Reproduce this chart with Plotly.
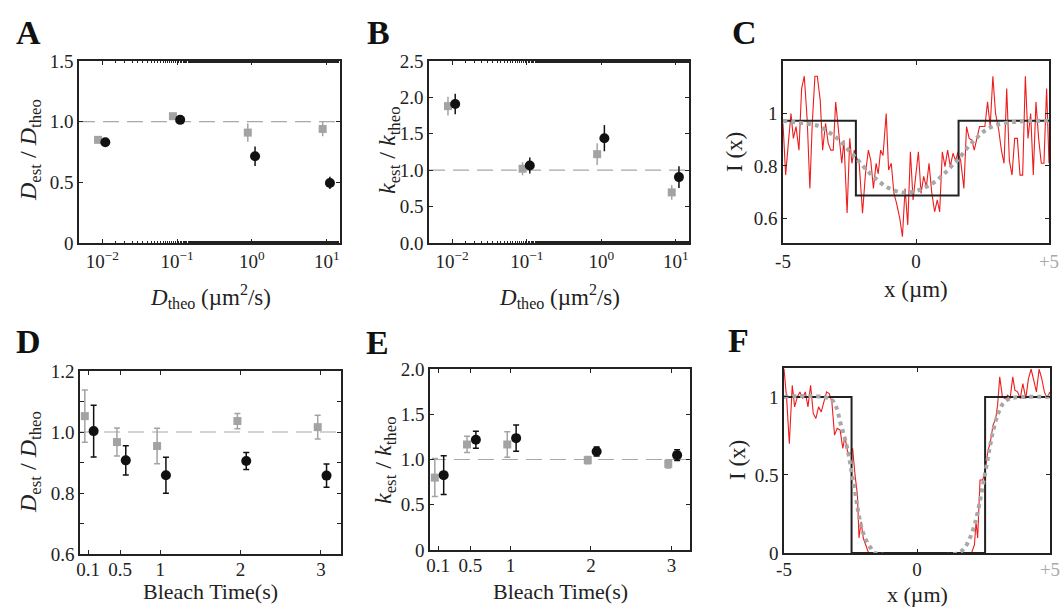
import plotly.graph_objects as go

# ---------------- data ----------------
# Panels A / B : x = D_theo (um^2/s)
d_theo = [0.01, 0.1, 1.0, 10.0]
A_gray = [0.85, 1.045, 0.91, 0.94]
A_gray_err = [0.02, 0.025, 0.075, 0.06]
A_black = [0.83, 1.015, 0.715, 0.495]
A_black_err = [0.02, 0.02, 0.08, 0.05]

B_gray = [1.88, 1.02, 1.22, 0.695]
B_gray_err = [0.13, 0.09, 0.15, 0.10]
B_black = [1.91, 1.065, 1.44, 0.905]
B_black_err = [0.14, 0.11, 0.18, 0.15]

# Panels D / E : x = bleach time (s)
bleach = [0.1, 0.5, 1.0, 2.0, 3.0]
D_gray = [1.052, 0.967, 0.954, 1.036, 1.016]
D_gray_err = [0.086, 0.046, 0.058, 0.025, 0.039]
D_black = [1.003, 0.907, 0.858, 0.905, 0.857]
D_black_err = [0.085, 0.048, 0.059, 0.028, 0.038]

E_gray = [0.80, 1.166, 1.166, 0.993, 0.952]
E_gray_err = [0.21, 0.09, 0.14, 0.04, 0.045]
E_black = [0.827, 1.218, 1.236, 1.089, 1.048]
E_black_err = [0.215, 0.095, 0.144, 0.05, 0.06]

# Panel C : intensity profile
C_x = [-5.0, -4.9, -4.8, -4.7, -4.61, -4.51, -4.4, -4.3, -4.2, -4.09, -3.99, -3.9, -3.8, -3.71,
       -3.6, -3.51, -3.4, -3.3, -3.2, -3.11, -3.02, -2.92, -2.79, -2.71, -2.59, -2.49, -2.41,
       -2.32, -2.23, -2.14, -2.01, -1.9, -1.79, -1.7, -1.6, -1.5, -1.42, -1.33, -1.24, -1.12,
       -1.03, -0.93, -0.83, -0.73, -0.61, -0.51, -0.41, -0.31, -0.21, -0.11, 0.0, 0.09, 0.19,
       0.29, 0.39, 0.49, 0.59, 0.7, 0.8, 0.89, 0.99, 1.09, 1.19, 1.29, 1.39, 1.49, 1.58, 1.68,
       1.8, 1.9, 2.0, 2.1, 2.19, 2.29, 2.39, 2.49, 2.59, 2.69, 2.79, 2.89, 2.99, 3.11, 3.21,
       3.31, 3.41, 3.51, 3.61, 3.71, 3.81, 3.91, 4.01, 4.11, 4.21, 4.31, 4.41, 4.51, 4.61,
       4.71, 4.81, 4.91, 5.0]
C_y = [0.962, 0.765, 0.886, 1.0, 0.905, 0.95, 0.86, 1.095, 1.142, 0.975, 0.714, 0.962, 1.142,
       1.142, 1.05, 0.86, 0.962, 0.886, 0.86, 0.86, 1.044, 0.95, 0.81, 0.898, 0.62, 0.905, 0.81,
       0.86, 0.83, 0.816, 0.62, 0.77, 0.86, 0.82, 0.714, 0.81, 0.77, 0.86, 0.84, 1.0, 0.784,
       0.81, 0.695, 0.657, 0.6, 0.53, 0.714, 0.575, 0.854, 0.67, 0.76, 0.854, 0.695, 0.76, 0.72,
       0.81, 0.70, 0.625, 0.67, 0.625, 0.854, 0.797, 0.86, 0.797, 0.848, 0.82, 0.854, 0.82,
       0.714, 0.95, 0.905, 0.898, 0.86, 0.905, 0.95, 0.95, 0.95, 1.044, 0.95, 1.142, 1.0, 0.937,
       0.86, 0.81, 1.095, 0.82, 0.765, 0.905, 0.905, 0.765, 0.765, 1.142, 0.905, 1.0, 0.765,
       1.044, 0.905, 0.81, 0.81, 1.095, 0.81]
C_fit_x = [-5.0, -3.92, -3.61, -3.36, -3.11, -2.88, -2.67, -2.48, -2.26, -2.08, -1.88, -1.67,
           -1.45, -1.2, -0.9, -0.61, -0.3, 0.0, 0.26, 0.51, 0.76, 0.98, 1.2, 1.4, 1.6, 1.94,
           2.26, 2.57, 2.95, 3.38, 4.01, 5.0]
C_fit_y = [0.972, 0.958, 0.95, 0.934, 0.917, 0.898, 0.876, 0.854, 0.831, 0.81, 0.787, 0.765,
           0.746, 0.726, 0.71, 0.70, 0.699, 0.704, 0.714, 0.727, 0.743, 0.763, 0.784, 0.806,
           0.826, 0.87, 0.905, 0.933, 0.953, 0.964, 0.97, 0.972]
C_step_x = [-5.0, -2.26, 1.6, 5.0]
C_step_y = [0.972, 0.687, 0.972, 0.972]

# Panel F : intensity profile
F_x = [-5.0, -4.9, -4.8, -4.69, -4.6, -4.5, -4.4, -4.3, -4.2, -4.1, -4.0, -3.9, -3.8, -3.7,
       -3.6, -3.5, -3.4, -3.3, -3.2, -3.1, -3.0, -2.89, -2.79, -2.71, -2.61, -2.51, -2.42,
       -2.33, -2.24, -2.18, -2.1, -2.02, -1.92, -1.82, 0.0, 2.05, 2.16, 2.22, 2.28, 2.37, 2.47,
       2.56, 2.66, 2.76, 2.86, 2.96, 3.03, 3.11, 3.21, 3.31, 3.41, 3.5, 3.6, 3.68, 3.78, 3.88,
       3.98, 4.09, 4.19, 4.29, 4.39, 4.49, 4.59, 4.69, 4.79, 4.89, 4.99]
F_y = [1.18, 0.989, 0.70, 1.074, 0.936, 1.0, 1.032, 0.989, 1.032, 0.936, 1.074, 0.894, 0.862,
       0.936, 0.904, 0.968, 1.032, 1.021, 0.968, 0.755, 0.798, 0.787, 0.67, 0.745, 0.649, 0.628,
       0.67, 0.50, 0.372, 0.096, 0.2, 0.096, 0.053, 0.0, 0.0, 0.0, 0.053, 0.2, 0.096, 0.468,
       0.468, 0.52, 0.649, 0.713, 0.819, 0.862, 0.947, 1.128, 1.0, 0.989, 1.011, 0.989, 1.128,
       1.043, 1.032, 0.989, 1.085, 0.989, 1.117, 1.177, 1.106, 1.032, 1.177, 1.117, 1.032,
       0.989, 1.032]
F_fit_x = [-5.0, -3.27, -3.04, -2.89, -2.73, -2.58, -2.46, -2.33, -2.21, -2.08, -1.92, -1.74,
           -1.58, 1.55, 1.8, 1.99, 2.18, 2.34, 2.49, 2.62, 2.74, 2.87, 3.03, 3.21, 3.43, 3.68, 5.0]
F_fit_y = [1.0, 0.989, 0.936, 0.84, 0.745, 0.638, 0.52, 0.394, 0.266, 0.16, 0.085, 0.032,
           0.0, 0.0, 0.036, 0.096, 0.19, 0.31, 0.447, 0.564, 0.68, 0.787, 0.883, 0.951, 0.985,
           0.996, 1.0]
F_step_x = [-5.0, -2.46, 2.56, 5.0]
F_step_y = [1.0, 0.0, 1.0, 1.0]

# ---------------- styling ----------------
W, H = 1063, 607
FONT = "Liberation Serif"
GRAY = "#a3a3a3"
BLACK = "#111111"
TICKC = "#222222"

def dom(x0, x1, y0, y1):
    return [x0 / W, x1 / W], [1 - y1 / H, 1 - y0 / H]

domains = {
    1: dom(79, 340, 61, 243),    # A
    2: dom(429, 689, 61, 243),   # B
    3: dom(783, 1049, 61, 243),  # C
    4: dom(80, 341, 371, 554),   # D
    5: dom(430, 690, 369, 550),  # E
    6: dom(784, 1050, 368, 553), # F
}

fig = go.Figure()

def axname(i, k):
    return k if i == 1 else f"{k}{i}"

def err_pair(i, xs_g, yg, eg, xs_b, yb, eb, cap):
    xa, ya = axname(i, "x"), axname(i, "y")
    fig.add_trace(go.Scatter(x=xs_g, y=yg, mode="markers", xaxis=xa, yaxis=ya,
                             marker=dict(symbol="square", size=8, color=GRAY),
                             error_y=dict(type="data", array=eg, color=GRAY, thickness=1.5, width=cap),
                             showlegend=False))
    fig.add_trace(go.Scatter(x=xs_b, y=yb, mode="markers", xaxis=xa, yaxis=ya,
                             marker=dict(symbol="circle", size=10, color=BLACK),
                             error_y=dict(type="data", array=eb, color=BLACK, thickness=1.5, width=cap),
                             showlegend=False))

def ref_line(i):
    fig.add_shape(type="line", xref=f"{axname(i,'x')} domain", yref=axname(i, "y"),
                  x0=0, x1=1, y0=1, y1=1,
                  line=dict(color="#a8a8a8", width=1.2, dash="16px,8px"), layer="below")

# A, B (log x)
for i, (yg, eg, yb, eb) in [(1, (A_gray, A_gray_err, A_black, A_black_err)),
                            (2, (B_gray, B_gray_err, B_black, B_black_err))]:
    ref_line(i)
    err_pair(i, [v * 0.88 for v in d_theo], yg, eg, [v * 1.1 for v in d_theo], yb, eb, 0)

# D, E (linear x)
for i, (yg, eg, yb, eb) in [(4, (D_gray, D_gray_err, D_black, D_black_err)),
                            (5, (E_gray, E_gray_err, E_black, E_black_err))]:
    ref_line(i)
    err_pair(i, [v - 0.04 for v in bleach], yg, eg, [v + 0.07 for v in bleach], yb, eb, 3)

# C, F profiles
for i, (sx, sy, rx, ry, fx, fy) in [(3, (C_step_x, C_step_y, C_x, C_y, C_fit_x, C_fit_y)),
                                    (6, (F_step_x, F_step_y, F_x, F_y, F_fit_x, F_fit_y))]:
    xa, ya = axname(i, "x"), axname(i, "y")
    fig.add_trace(go.Scatter(x=rx, y=ry, mode="lines", xaxis=xa, yaxis=ya,
                             line=dict(color="#ee1c1c", width=1.1), showlegend=False))
    fig.add_trace(go.Scatter(x=sx, y=sy, mode="lines", xaxis=xa, yaxis=ya, line_shape="hv",
                             line=dict(color="#222222", width=2), showlegend=False))
    fig.add_trace(go.Scatter(x=fx, y=fy, mode="lines", xaxis=xa, yaxis=ya, line_shape="spline",
                             line=dict(color="#a8a8a8", width=4, dash="dot"), showlegend=False))

base_axis = dict(showline=True, mirror="allticks", linecolor="#222222", linewidth=1.5,
                 ticks="inside", ticklen=4, tickcolor="#222222", showgrid=False, zeroline=False,
                 automargin=False,
                 tickfont=dict(family=FONT, size=19, color=TICKC))

layout = dict(width=W, height=H, margin=dict(l=0, r=0, t=0, b=0),
              paper_bgcolor="white", plot_bgcolor="white", showlegend=False)

log_ticks = dict(tickvals=[0.01, 0.1, 1, 10],
                 ticktext=["10<sup>−2</sup>", "10<sup>−1</sup>", "10<sup>0</sup>", "10<sup>1</sup>"])
plus5 = "<span style='color:#aaaaaa'>+5</span>"

axes_cfg = {
    1: (dict(type="log", range=[-2.31, 1.176],
             minor=dict(ticks="inside", ticklen=2, tickcolor="#222222"), **log_ticks),
        dict(range=[0, 1.5], tickvals=[0, 0.5, 1.0, 1.5], ticktext=["0", "0.5", "1.0", "1.5"])),
    2: (dict(type="log", range=[-2.31, 1.176],
             minor=dict(ticks="inside", ticklen=2, tickcolor="#222222"), **log_ticks),
        dict(range=[0, 2.5], tickvals=[0, 0.5, 1.0, 1.5, 2.0, 2.5],
             ticktext=["0.0", "0.5", "1.0", "1.5", "2.0", "2.5"])),
    3: (dict(range=[-5, 5], tickvals=[-5, 0, 5], ticktext=["-5", "0", plus5]),
        dict(range=[0.506, 1.2], tickvals=[0.6, 0.8, 1.0], ticktext=["0.6", "0.8", "1"])),
    4: (dict(range=[0, 3.25], tickvals=bleach, ticktext=["0.1", "0.5", "1", "2", "3"],
             ticklabelstandoff=-3),
        dict(range=[0.6, 1.2], tickvals=[0.6, 0.7, 0.8, 0.9, 1.0, 1.1, 1.2],
             ticktext=["0.6", "", "0.8", "", "1.0", "", "1.2"])),
    5: (dict(range=[0, 3.23], tickvals=bleach, ticktext=["0.1", "0.5", "1", "2", "3"],
             ticklabelstandoff=-3),
        dict(range=[0, 2.0], tickvals=[0, 0.5, 1.0, 1.5, 2.0],
             ticktext=["0", "0.5", "1.0", "1.5", "2.0"])),
    6: (dict(range=[-5, 5], tickvals=[-5, 0, 5], ticktext=["-5", "0", plus5],
             ticklabelstandoff=-2),
        dict(range=[0, 1.185], tickvals=[0, 0.5, 1.0], ticktext=["0", "0.5", "1"])),
}

for i, (xc, yc) in axes_cfg.items():
    xd, yd = domains[i]
    xk = "xaxis" if i == 1 else f"xaxis{i}"
    yk = "yaxis" if i == 1 else f"yaxis{i}"
    xa = dict(base_axis); xa.update(xc); xa.update(domain=xd, anchor=axname(i, "y"))
    ya = dict(base_axis); ya.update(yc); ya.update(domain=yd, anchor=axname(i, "x"))
    layout[xk] = xa
    layout[yk] = ya

fig.update_layout(**layout)

def ann(text, cx, cy, size, angle=0):
    fig.add_annotation(text=text, x=cx / W, y=1 - cy / H, xref="paper", yref="paper",
                       xanchor="center", yanchor="middle", showarrow=False, textangle=angle,
                       font=dict(family=FONT, size=size, color=TICKC))

# axis titles
dtheo_title = "<i>D</i><sub>theo</sub> (µm<sup>2</sup>/s)"
D_ratio = "<i>D</i><sub>est</sub> / <i>D</i><sub>theo</sub>"
k_ratio = "<i>k</i><sub>est</sub> / <i>k</i><sub>theo</sub>"
ann(dtheo_title, 210, 296, 23)
ann(dtheo_title, 559, 296, 23)
ann("x (µm)", 916, 289, 23)
ann("Bleach Time(s)", 210, 591, 22)
ann("Bleach Time(s)", 560, 591, 22)
ann("x (µm)", 917, 594, 22)
ann(D_ratio, 30, 150, 24, -90)
ann(k_ratio, 389, 150, 24, -90)
ann("I (x)", 735, 152, 23, -90)
ann(D_ratio, 30, 462, 24, -90)
ann(k_ratio, 385, 460, 24, -90)
ann("I (x)", 737, 460, 23, -90)

# panel letters
letters = [("A", 28, 33), ("B", 378, 33), ("C", 744, 33),
           ("D", 28, 341), ("E", 377, 342), ("F", 738, 340)]
for t, cx, cy in letters:
    fig.add_annotation(text=f"<b>{t}</b>", x=cx / W, y=1 - cy / H, xref="paper", yref="paper",
                       xanchor="center", yanchor="middle", showarrow=False,
                       font=dict(family=FONT, size=34, color="#111111"))

fig.write_html("out.html")
